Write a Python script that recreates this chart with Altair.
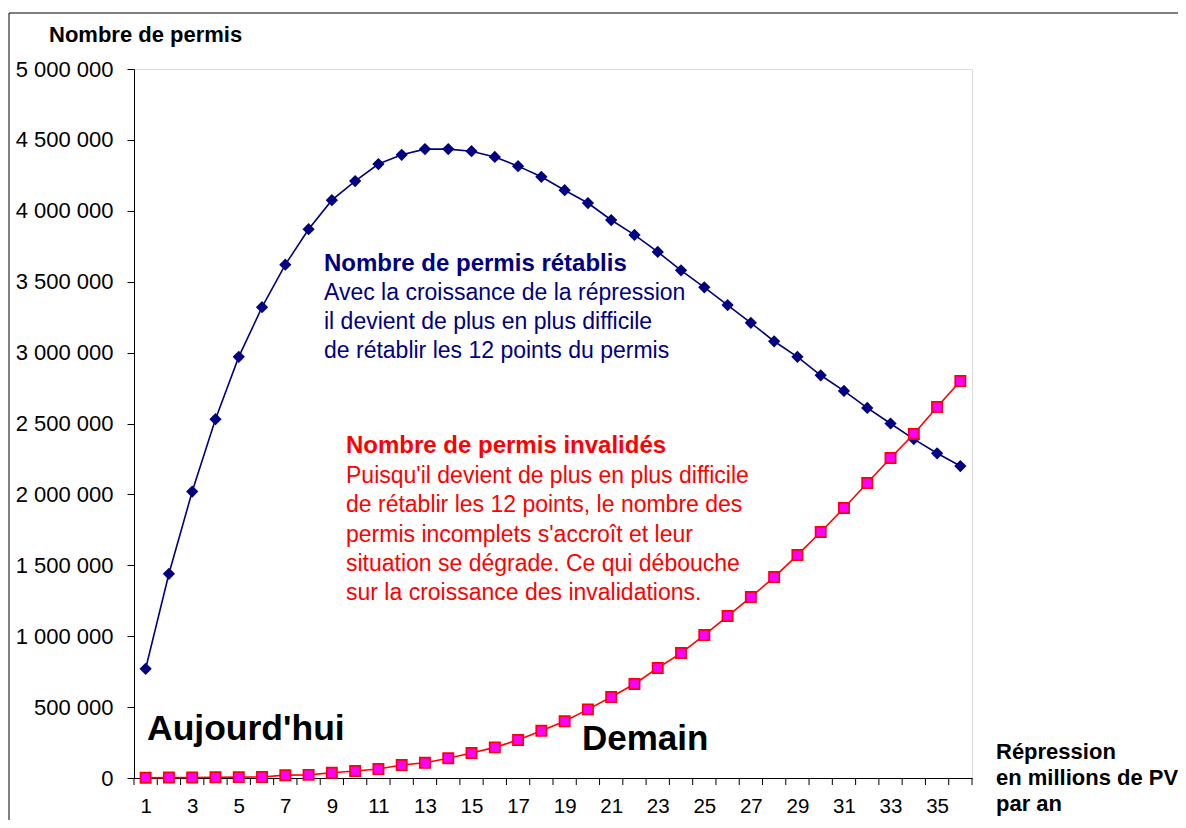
import altair as alt
import pandas as pd

# ---- data ----
categories = list(range(1, 37))
retablis = [770000, 1440000, 2020000, 2530000, 2970000, 3320000, 3620000, 3870000,
            4075000, 4210000, 4330000, 4395000, 4435000, 4435000, 4420000, 4380000,
            4315000, 4240000, 4145000, 4055000, 3935000, 3830000, 3710000, 3580000,
            3460000, 3335000, 3210000, 3080000, 2970000, 2840000, 2730000, 2610000,
            2500000, 2390000, 2290000, 2200000]
invalides = [2000, 3000, 4000, 5000, 6000, 7000, 20000, 22000, 37000, 49000,
             63000, 92000, 108000, 139000, 176000, 216000, 268000, 333000,
             400000, 484000, 571000, 663000, 776000, 881000, 1008000, 1142000,
             1276000, 1417000, 1572000, 1735000, 1904000, 2080000, 2257000,
             2426000, 2616000, 2800000]
x_labels = list(range(1, 36, 2))
y_ticks = list(range(0, 5000001, 500000))
tick_bounds = [i + 0.5 for i in range(0, 37)]

y_title = "Nombre de permis"
x_title = ["Répression", "en millions de PV", "par an"]
blue_title = "Nombre de permis rétablis"
blue_body = ["Avec la croissance de la répression",
             "il devient de plus en plus difficile",
             "de rétablir les 12 points du permis"]
red_title = "Nombre de permis invalidés"
red_body = ["Puisqu'il devient de plus en plus difficile",
            "de rétablir les 12 points, le nombre des",
            "permis incomplets s'accroît et leur",
            "situation se dégrade. Ce qui débouche",
            "sur la croissance des invalidations."]
label_today = "Aujourd'hui"
label_tomorrow = "Demain"

NAVY = "#000080"
RED = "#FF0000"
MAGENTA = "#FF00FF"
FONT = "Liberation Sans"

W, H = 838, 709

df = pd.DataFrame({"x": categories, "ret": retablis, "inv": invalides})
one = pd.DataFrame({"a": [0]})

xs = alt.Scale(domain=[0.5, 36.5], nice=False, zero=False)
ys = alt.Scale(domain=[0, 5000000], nice=False)

x_axis = alt.Axis(values=x_labels, ticks=False, tickSize=0, labelPadding=18,
                  labelFontSize=20.5, labelFont=FONT, labelColor="black",
                  domainColor="black", domainWidth=1, grid=False, title=None,
                  labelFlush=False, labelOverlap=False)
y_axis = alt.Axis(values=y_ticks, tickSize=7, tickColor="black", tickWidth=1,
                  labelPadding=14, labelFontSize=22, labelFont=FONT,
                  labelColor="black", domainColor="black", domainWidth=1,
                  grid=False, title=None, labelOverlap=False,
                  labelExpr="replace(format(datum.value, ','), /,/g, ' ')")


def X(field):
    return alt.X(field, type="quantitative", scale=xs, axis=x_axis)


def Y(field):
    return alt.Y(field, type="quantitative", scale=ys, axis=y_axis)


base = alt.Chart(df)

blue_line = base.mark_line(color=NAVY, strokeWidth=1.6).encode(x=X("x"), y=Y("ret"))
blue_pts = base.mark_point(shape="diamond", filled=True, color=NAVY, size=150,
                           opacity=1).encode(x=X("x"), y=Y("ret"))
red_line = base.mark_line(color=RED, strokeWidth=1.6).encode(x=X("x"), y=Y("inv"))
red_pts = base.mark_point(shape="square", filled=True, fill=MAGENTA, stroke=RED,
                          strokeWidth=1.7, size=105, opacity=1).encode(x=X("x"), y=Y("inv"))

ticks = alt.Chart(pd.DataFrame({"b": tick_bounds})).mark_rule(
    color="black", strokeWidth=1).encode(x=X("b"), y=alt.value(H), y2=alt.value(H + 7))

frame = alt.Chart(one).mark_rect(fill=None, filled=False, stroke="black",
                                 strokeWidth=1).encode(
    x=alt.value(-125), x2=alt.value(W + 400), y=alt.value(-56), y2=alt.value(H + 300))


def txt(text, x, y, size, color="black", bold=False, line_height=None):
    kw = dict(align="left", baseline="alphabetic", font=FONT, fontSize=size,
              color=color, fontWeight="bold" if bold else "normal", text=text)
    if line_height is not None:
        kw["lineHeight"] = line_height
    return alt.Chart(one).mark_text(**kw).encode(x=alt.value(x), y=alt.value(y))


texts = [
    txt(y_title, -85, -27, 22, bold=True),
    txt(blue_title, 190, 202, 24, color=NAVY, bold=True),
    txt(blue_body, 190, 231, 23, color=NAVY, line_height=29),
    txt(red_title, 212, 384, 24, color=RED, bold=True),
    txt(red_body, 212, 414, 23, color=RED, line_height=29.3),
    txt(label_today, 13, 671, 35.5, bold=True),
    txt(label_tomorrow, 448, 681, 35, bold=True),
    txt(x_title, 862, 690, 22, bold=True, line_height=26),
]

chart = alt.layer(frame, blue_line, blue_pts, red_line, red_pts, ticks, *texts).properties(
    width=W, height=H,
    padding={"left": 126, "top": 61, "right": 206, "bottom": 42},
    autosize=alt.AutoSizeParams(type="none"),
).configure_view(stroke="#808080", strokeWidth=1).configure(background="white")

chart.save("out.html", embed_options={"renderer": "svg", "actions": False})
